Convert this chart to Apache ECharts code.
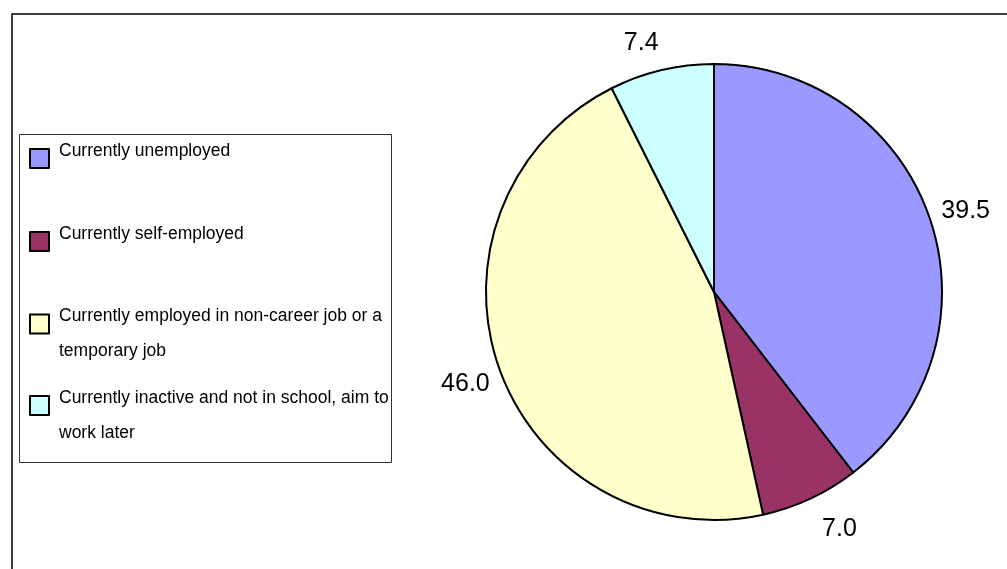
<!DOCTYPE html>
<html>
<head>
<meta charset="utf-8">
<script src="https://cdn.jsdelivr.net/npm/echarts@6/dist/echarts.min.js"></script>
<style>
  html, body { margin: 0; padding: 0; background: #fff; }
  #chart { width: 1007px; height: 569px; }
</style>
</head>
<body>
<div id="chart"></div>
<script>
// slice categories and values (percent)
const categories = [
  'Currently unemployed',
  'Currently self-employed',
  'Currently employed in non-career job or a temporary job',
  'Currently inactive and not in school, aim to work later'
];
const legendLines = [
  ['Currently unemployed'],
  ['Currently self-employed'],
  ['Currently employed in non-career job or a', 'temporary job'],
  ['Currently inactive and not in school, aim to', 'work later']
];
const values = [39.5, 7.0, 46.0, 7.4];
const colors = ['#9999ff', '#993366', '#ffffcc', '#ccffff'];
// small nudges so value labels sit where the original puts them
const labelNudge = [[-2, 6], [12, -6], [4, 2], [-11, 12]];

const font = 'Liberation Sans, Arial, sans-serif';
const center = [714, 292];

const pieData = categories.map((name, i) => ({
  name,
  value: values[i],
  itemStyle: { color: colors[i] }
}));

// rich text: first line should sit slightly above the icon centre
const legendText = lines => {
  if (lines.length === 1) return '{a|' + lines[0] + '}\n{s| }';
  return '{t| }\n' + lines.map(l => '{a|' + l + '}').join('\n');
};

// one legend per entry so each row sits where the original has it
const legendTops = [142, 225, 285, 366.5];
const legends = categories.map((name, i) => ({
  orient: 'vertical',
  left: 29,
  top: legendTops[i],
  padding: 0,
  icon: 'rect',
  itemWidth: 19,
  itemHeight: 19,
  selectedMode: false,
  data: [name],
  formatter: () => legendText(legendLines[i]),
  itemStyle: { borderColor: '#000', borderWidth: 2 },
  textStyle: {
    padding: [0, 0, 0, 5],
    rich: {
      a: { fontFamily: font, fontSize: 17.5, color: '#000', lineHeight: 35 },
      s: { fontSize: 8, lineHeight: 15 },
      t: { fontSize: 8, lineHeight: 20 }
    }
  }
}));

const chart = echarts.init(document.getElementById('chart'));
chart.setOption({
  animation: false,
  backgroundColor: '#fff',
  legend: legends,
  graphic: [
    {
      type: 'rect',
      shape: { x: 12, y: 14, width: 1100, height: 700 },
      style: { fill: 'none', stroke: '#000', lineWidth: 1.5 },
      silent: true
    },
    {
      type: 'rect',
      shape: { x: 19.5, y: 134.5, width: 372, height: 328 },
      style: { fill: 'none', stroke: '#333', lineWidth: 1 },
      silent: true
    }
  ],
  series: [
    {
      type: 'pie',
      center: center,
      radius: 228,
      startAngle: 90,
      clockwise: true,
      silent: true,
      label: { show: false },
      labelLine: { show: false },
      itemStyle: { borderColor: '#000', borderWidth: 2 },
      data: pieData
    },
    {
      // invisible ring used only to place the value labels
      type: 'pie',
      center: center,
      radius: [258, 272],
      startAngle: 90,
      clockwise: true,
      silent: true,
      legendHoverLink: false,
      itemStyle: { color: 'rgba(0,0,0,0)', borderWidth: 0 },
      label: {
        show: true,
        position: 'inside',
        fontFamily: font,
        fontSize: 25,
        color: '#000',
        formatter: p => p.value.toFixed(1)
      },
      labelLine: { show: false },
      data: categories.map((name, i) => ({
        name,
        value: values[i],
        label: { offset: labelNudge[i] }
      }))
    }
  ]
});
</script>
</body>
</html>
